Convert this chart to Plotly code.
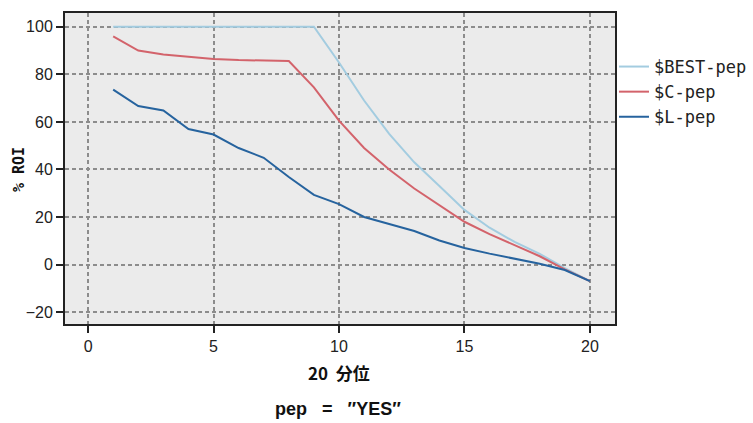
import plotly.graph_objects as go

quantiles = list(range(1, 21))
best_pep = [100, 100, 100, 100, 100, 100, 100, 100, 100, 85, 69, 55, 43, 33, 23, 15.5, 9.5, 4.5, -1.5, -7]
c_pep = [96, 90, 88.3, 87.3, 86.5, 86, 85.8, 85.6, 74.5, 60.5, 49, 40, 32, 25, 18, 12.8, 8, 3.5, -2, -7]
l_pep = [73.6, 66.7, 64.8, 57, 54.7, 49, 44.9, 36.8, 29.3, 25.4, 20, 17.2, 14.1, 10.1, 7, 4.6, 2.5, 0.3, -2.3, -7]

series_names = ["$BEST-pep", "$C-pep", "$L-pep"]
series_values = [best_pep, c_pep, l_pep]
series_colors = ["#a3cce0", "#d3636b", "#26639e"]

x_ticks = [0, 5, 10, 15, 20]
y_ticks = [-20, 0, 20, 40, 60, 80, 100]

W, H = 753, 423
L, R, T, B = 65, 615, 13, 324  # plot area pixel box
pw = W - L  # paper width (right margin 0)
ph = B - T

fig = go.Figure()
for name, vals, col in zip(series_names, series_values, series_colors):
    fig.add_trace(go.Scatter(x=quantiles, y=vals, mode="lines", name=name,
                             line=dict(color=col, width=2)))

tick_font = dict(family="Liberation Sans Narrow, Arial Narrow, Liberation Sans", size=16, color="#222")
axis_common = dict(showline=True, linecolor="#222", linewidth=2, mirror=True,
                   ticks="outside", ticklen=7, tickwidth=2, tickcolor="#222",
                   showgrid=True, gridcolor="#8c8c8c", griddash="4px,3px", gridwidth=1.5,
                   zeroline=False, tickfont=tick_font, automargin=False)


def px_x(x):
    return (x - L) / pw


def px_y(y):
    return (B - y) / ph


fig.update_layout(
    width=W, height=H,
    margin=dict(l=L, r=0, t=T, b=H - B, autoexpand=False),
    paper_bgcolor="white", plot_bgcolor="#ebebeb",
    xaxis=dict(range=[-0.92, 21.0], tickvals=x_ticks, domain=[0, (R - L) / pw], **axis_common),
    yaxis=dict(range=[-25, 105.8], tickvals=y_ticks, **axis_common),
    legend=dict(x=px_x(614), y=px_y(49), xanchor="left", yanchor="top",
                font=dict(family="DejaVu Sans Mono", size=17, color="#222"),
                bgcolor="rgba(0,0,0,0)", tracegroupgap=0, itemwidth=30),
    showlegend=True,
    annotations=[
        dict(text="<b>20&nbsp;&nbsp;分位</b>", x=px_x(339), y=px_y(372), xref="paper", yref="paper",
             xanchor="center", yanchor="middle",
             showarrow=False, font=dict(family="Noto Sans CJK JP", size=17, color="#111")),
        dict(text="<b>pep&nbsp;&nbsp;&nbsp;=&nbsp;&nbsp;&nbsp;″YES″</b>", x=px_x(338), y=px_y(409), xref="paper", yref="paper",
             xanchor="center", yanchor="middle",
             showarrow=False, font=dict(family="Liberation Sans Narrow, Liberation Sans", size=18, color="#111")),
        dict(text="<b>% ROI</b>", x=px_x(19), y=px_y(170), xref="paper", yref="paper", textangle=-90,
             xanchor="center", yanchor="middle",
             showarrow=False, font=dict(family="DejaVu Sans Mono", size=15, color="#111")),
    ],
)

fig.write_html("out.html", config={"displayModeBar": False},
               post_script="document.body.style.margin='0';document.body.style.padding='0';")
